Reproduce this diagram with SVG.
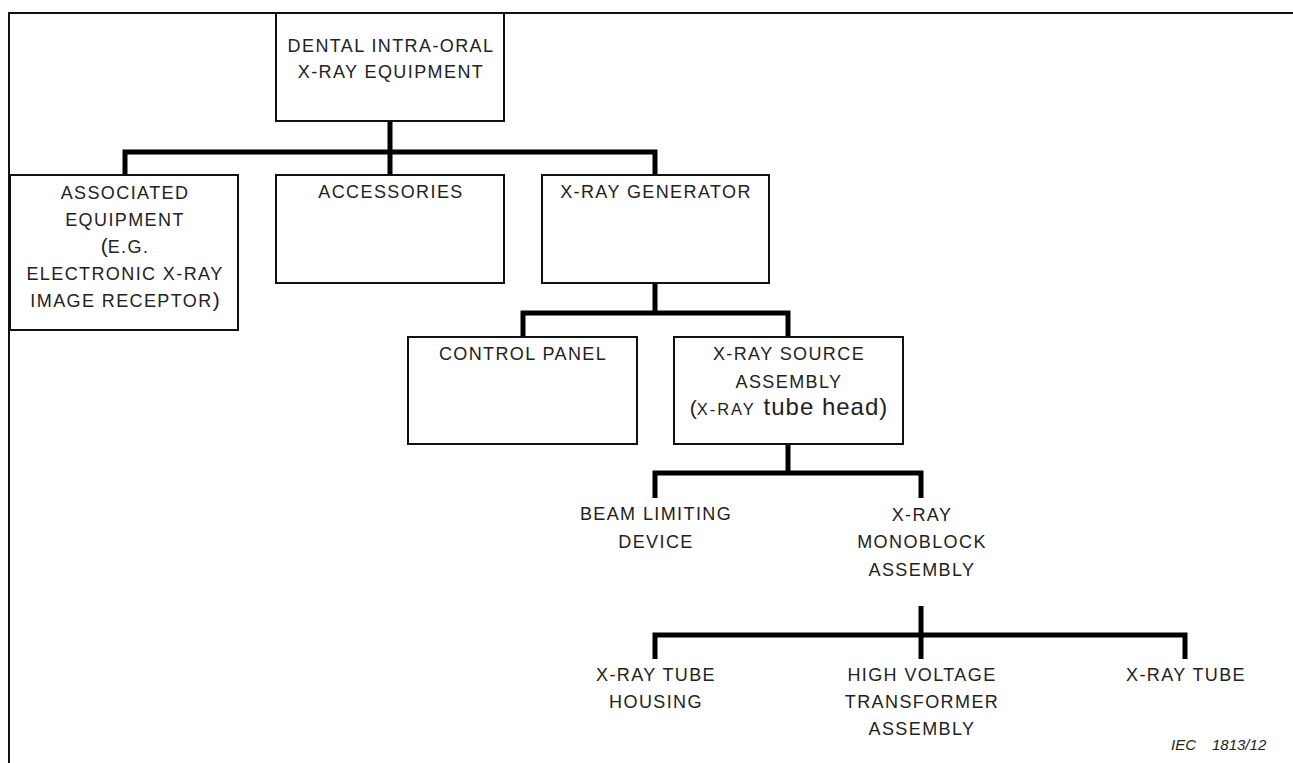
<svg xmlns="http://www.w3.org/2000/svg" width="1293" height="763" viewBox="0 0 1293 763">
<style>
.frame{fill:none;stroke:#111;stroke-width:2}
.box{fill:#fff;stroke:#111;stroke-width:2}
.conn{fill:none;stroke:#000;stroke-width:5;stroke-linejoin:miter;stroke-linecap:butt}
.t{font-family:"Liberation Sans",Arial,sans-serif;font-size:18px;letter-spacing:1.4px;fill:#222;text-anchor:middle}
.big{font-size:24px;letter-spacing:1px}
.par{font-size:21px;letter-spacing:0}
.sc{font-size:16.5px;letter-spacing:2px}
.iec{font-family:"Liberation Sans",Arial,sans-serif;font-size:15px;font-style:italic;fill:#222}
</style>
<rect width="1293" height="763" fill="#fff"/>
<path class="frame" d="M9 763 V13 H1293"/>
<g id="connectors">
<path class="conn" d="M390 121 V175"/>
<path class="conn" d="M125 175 V152 H655 V175"/>
<path class="conn" d="M655 283 V313"/>
<path class="conn" d="M523 337 V313 H788 V337"/>
<path class="conn" d="M788 444 V473"/>
<path class="conn" d="M655 498 V473 H921 V498"/>
<path class="conn" d="M921 606 V659"/>
<path class="conn" d="M655 659 V635 H1185 V659"/>
</g>
<g id="n-dental">
<rect class="box" x="276" y="13" width="228" height="108"/>
<text class="t" x="391" y="52">DENTAL INTRA-ORAL</text>
<text class="t" x="391" y="78">X-RAY EQUIPMENT</text>
</g>
<g id="n-associated">
<rect class="box" x="10" y="175" width="228" height="155"/>
<text class="t" x="125" y="199">ASSOCIATED</text>
<text class="t" x="125" y="226">EQUIPMENT</text>
<text class="t" x="125" y="253"><tspan class="par">(</tspan>E.G.</text>
<text class="t" x="125" y="280">ELECTRONIC X-RAY</text>
<text class="t" x="125" y="307">IMAGE RECEPTOR<tspan class="par">)</tspan></text>
</g>
<g id="n-accessories">
<rect class="box" x="276" y="175" width="228" height="108"/>
<text class="t" x="391" y="198">ACCESSORIES</text>
</g>
<g id="n-generator">
<rect class="box" x="542" y="175" width="227" height="108"/>
<text class="t" x="656" y="198">X-RAY GENERATOR</text>
</g>
<g id="n-control">
<rect class="box" x="408" y="337" width="229" height="107"/>
<text class="t" x="523" y="360">CONTROL PANEL</text>
</g>
<g id="n-source">
<rect class="box" x="674" y="337" width="229" height="107"/>
<text class="t" x="789" y="360">X-RAY SOURCE</text>
<text class="t" x="789" y="388">ASSEMBLY</text>
<text class="t" x="789" y="415"><tspan class="par">(</tspan><tspan class="sc">X-RAY</tspan><tspan class="big"> tube head)</tspan></text>
</g>
<g id="n-beam">
<text class="t" x="656" y="520">BEAM LIMITING</text>
<text class="t" x="656" y="548">DEVICE</text>
</g>
<g id="n-monoblock">
<text class="t" x="922" y="521">X-RAY</text>
<text class="t" x="922" y="548">MONOBLOCK</text>
<text class="t" x="922" y="576">ASSEMBLY</text>
</g>
<g id="n-housing">
<text class="t" x="656" y="681">X-RAY TUBE</text>
<text class="t" x="656" y="708">HOUSING</text>
</g>
<g id="n-hv">
<text class="t" x="922" y="681">HIGH VOLTAGE</text>
<text class="t" x="922" y="708">TRANSFORMER</text>
<text class="t" x="922" y="735">ASSEMBLY</text>
</g>
<g id="n-tube">
<text class="t" x="1186" y="681">X-RAY TUBE</text>
</g>
<text class="iec" y="750"><tspan x="1171">IEC</tspan><tspan x="1212">1813/12</tspan></text>
</svg>
